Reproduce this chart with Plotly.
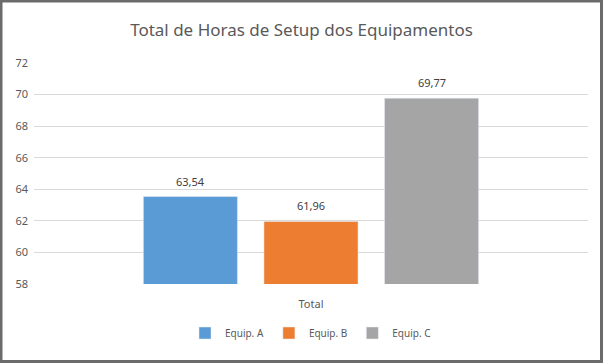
import plotly.graph_objects as go

categories = ["Total"]
series_names = ["Equip. A", "Equip. B", "Equip. C"]
series_values = [[63.54], [61.96], [69.77]]
series_colors = ["#5B9BD5", "#ED7D31", "#A5A5A5"]
y_ticks = [58, 60, 62, 64, 66, 68, 70, 72]

W, H = 603, 363
L, R, T, B = 34, 15, 63, 79
pw, ph = W - L - R, H - T - B
bargap, bargroupgap = 0.347, 0.22
slot = pw * (1 - bargap) / len(series_names)

fig = go.Figure()
annotations = []
for i, (name, vals, col) in enumerate(zip(series_names, series_values, series_colors)):
    fig.add_trace(go.Bar(x=categories, y=vals, name=name, marker_color=col))
    for c, v in zip(categories, vals):
        annotations.append(dict(
            x=c, y=v, xref="x", yref="y", text=f"{v:.2f}".replace(".", ","),
            showarrow=False, yanchor="bottom", yshift=6,
            xshift=(i - (len(series_names) - 1) / 2) * slot,
            font=dict(family="Noto Sans", size=11, color="#404040")))

fig.update_layout(
    width=W, height=H,
    margin=dict(l=L, r=R, t=T, b=B),
    paper_bgcolor="white", plot_bgcolor="white",
    separators=",.",
    barmode="group", bargap=bargap, bargroupgap=bargroupgap,
    title=dict(text="Total de Horas de Setup dos Equipamentos",
               x=0.5, xanchor="center", y=1 - 30 / H, yanchor="middle",
               font=dict(family="Noto Sans", size=17, color="#595959")),
    font=dict(family="Noto Sans", size=11, color="#595959"),
    xaxis=dict(showgrid=False, showline=False, ticks="", ticklabelstandoff=12,
               tickfont=dict(size=11, color="#595959")),
    yaxis=dict(range=[y_ticks[0], y_ticks[-1]], tickvals=y_ticks,
               showgrid=True, gridcolor="#D9D9D9", gridwidth=1,
               zeroline=False, showline=False, ticks="", ticklabelstandoff=5,
               tickfont=dict(size=11, color="#595959")),
    legend=dict(orientation="h", x=0.5, xanchor="center",
                y=(284 - 333) / ph, yanchor="middle", itemwidth=30,
                font=dict(size=10, color="#595959")),
    annotations=annotations,
    shapes=[dict(type="rect", xref="paper", yref="paper",
                 x0=(1 - L) / pw, x1=(W - 1.5 - L) / pw,
                 y0=-(H - 1.5 - T - ph) / ph, y1=1 + (T - 1) / ph,
                 line=dict(color="#6b6b6b", width=3))],
)

fig.write_html("out.html", config={"displayModeBar": False},
               post_script="document.body.style.margin='0px';")
